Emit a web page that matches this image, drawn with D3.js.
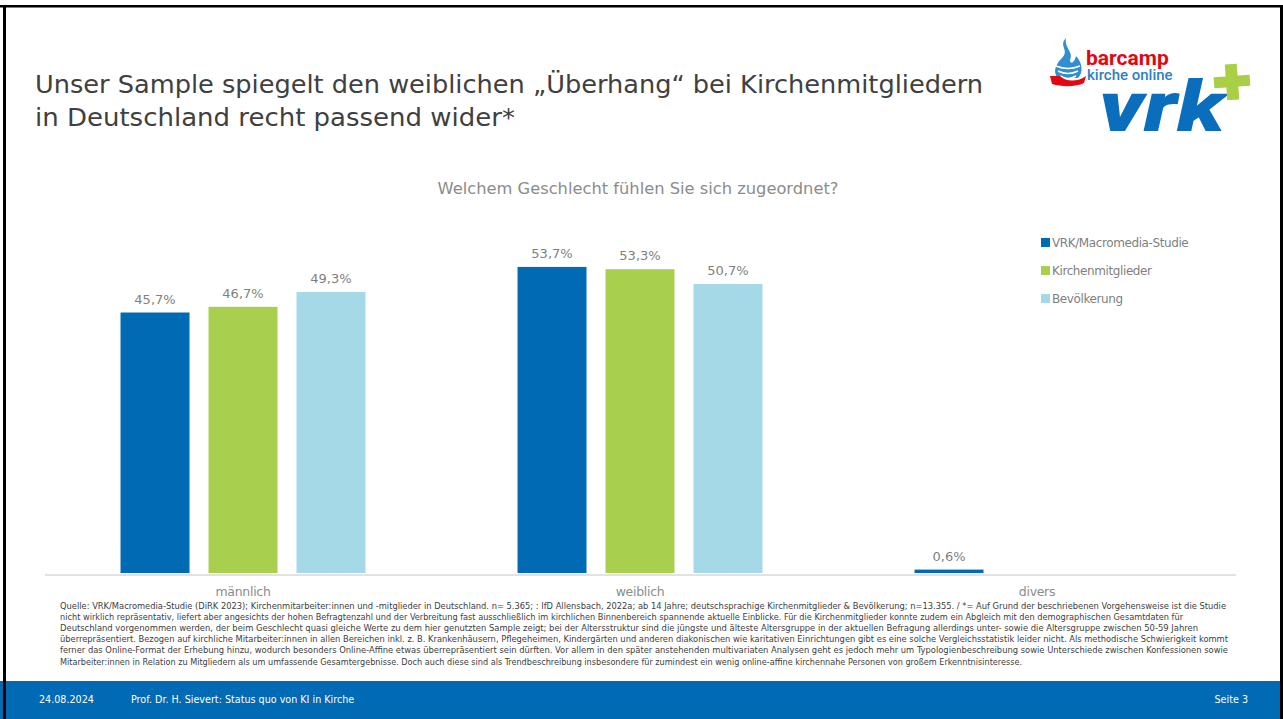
<!DOCTYPE html>
<html>
<head>
<meta charset="utf-8">
<script src="https://cdn.jsdelivr.net/npm/d3@7"></script>
<style>
  body { margin: 0; background: #fff; }
  svg { display: block; font-family: "DejaVu Sans", Verdana, sans-serif; }
</style>
</head>
<body>
<svg id="slide" width="1283" height="719"></svg>
<script>
// data
const categories = ["männlich", "weiblich", "divers"];
const seriesNames = ["VRK/Macromedia-Studie", "Kirchenmitglieder", "Bevölkerung"];
const vrkValues = [45.7, 53.7, 0.6];
const mitgliederValues = [46.7, 53.3, null];
const bevoelkerungValues = [49.3, 50.7, null];
const seriesColors = ["#006ab4", "#a8d04e", "#a6d9e7"];

const titleLines = [
  "Unser Sample spiegelt den weiblichen \u201eÜberhang\u201c bei Kirchenmitgliedern",
  "in Deutschland recht passend wider*"
];
const chartTitle = "Welchem Geschlecht fühlen Sie sich zugeordnet?";
const footnoteLines = [
  "Quelle: VRK/Macromedia-Studie (DiRK 2023); Kirchenmitarbeiter:innen und -mitglieder in Deutschland. n= 5.365; : IfD Allensbach, 2022a; ab 14 Jahre; deutschsprachige Kirchenmitglieder & Bevölkerung; n=13.355. / *= Auf Grund der beschriebenen Vorgehensweise ist die Studie",
  "nicht wirklich repräsentativ, liefert aber angesichts der hohen Befragtenzahl und der Verbreitung fast ausschließlich im kirchlichen Binnenbereich spannende aktuelle Einblicke. Für die Kirchenmitglieder konnte zudem ein Abgleich mit den demographischen Gesamtdaten für",
  "Deutschland vorgenommen werden, der beim Geschlecht quasi gleiche Werte zu dem hier genutzten Sample zeigt; bei der Altersstruktur sind die jüngste und älteste Altersgruppe in der aktuellen Befragung allerdings unter- sowie die Altersgruppe zwischen 50-59 Jahren",
  "überrepräsentiert. Bezogen auf kirchliche Mitarbeiter:innen in allen Bereichen inkl. z. B. Krankenhäusern, Pflegeheimen, Kindergärten und anderen diakonischen wie karitativen Einrichtungen gibt es eine solche Vergleichsstatistik leider nicht. Als methodische Schwierigkeit kommt",
  "ferner das Online-Format der Erhebung hinzu, wodurch besonders Online-Affine etwas überrepräsentiert sein dürften. Vor allem in den später anstehenden multivariaten Analysen geht es jedoch mehr um Typologienbeschreibung sowie Unterschiede zwischen Konfessionen sowie",
  "Mitarbeiter:innen in Relation zu Mitgliedern als um umfassende Gesamtergebnisse. Doch auch diese sind als Trendbeschreibung insbesondere für zumindest ein wenig online-affine kirchennahe Personen von großem Erkenntnisinteresse."
];
const footnoteWidths = [1166, 1123, 1138, 1168, 1168, 962];
const footerDate = "24.08.2024";
const footerText = "Prof. Dr. H. Sievert: Status quo von KI in Kirche";
const footerPage = "Seite 3";

const series = [vrkValues, mitgliederValues, bevoelkerungValues];
const rows = categories.map((c, i) => ({
  cat: c,
  vals: seriesNames.map((s, j) => ({ key: s, color: seriesColors[j], value: series[j][i] }))
}));

const svg = d3.select("#slide");
const W = 1283, H = 719;

// slide frame
svg.append("rect").attr("width", W).attr("height", H).attr("fill", "#fff");

// title
const title = svg.append("g").attr("fill", "#404040").style("font-size", "24.5px");
titleLines.forEach((t, i) => {
  title.append("text").attr("x", 35).attr("y", 93 + i * 33).text(t);
});
// squeeze title to the reference width
title.selectAll("text").each(function(d, i) {
  const target = [948, 480][i];
  const w = this.getComputedTextLength();
  if (Math.abs(w - target) > 4) d3.select(this).attr("textLength", target).attr("lengthAdjust", "spacingAndGlyphs");
});

// logo
const logo = svg.append("g").attr("transform", "translate(1048,36)");
// flame
logo.append("path")
  .attr("d", "M18,2 C10,10 22,14 14,22 C8,28 4,36 10,42 L30,42 C36,36 34,26 28,20 C26,28 22,28 22,24 C26,16 16,12 18,2 Z")
  .attr("fill", "#2f8fd0");
[30, 35, 40].forEach((y, i) => {
  logo.append("path").attr("d", `M${8 + i * 2},${y} Q20,${y + 5} ${32 - i * 2},${y}`)
    .attr("fill", "none").attr("stroke", "#fff").attr("stroke-width", 1.6);
});
// hand
logo.append("path")
  .attr("d", "M2,40 L12,40 C18,46 30,46 38,40 L36,47 C28,51 14,51 4,48 Z")
  .attr("fill", "#e30613");
logo.append("text").attr("x", 38).attr("y", 29).attr("fill", "#e30613")
  .style("font-size", "21px").style("font-weight", "bold").style("font-family", "Roboto, sans-serif").text("barcamp");
logo.append("text").attr("x", 39).attr("y", 44).attr("fill", "#2f7fc4")
  .style("font-size", "15px").style("font-weight", "500").style("font-family", "Roboto, sans-serif").text("kirche online");
logo.append("text").attr("x", 51).attr("y", 95).attr("fill", "#0a6ebd")
  .style("font-size", "70px").style("font-weight", "900").style("font-style", "italic")
  .style("font-family", "Roboto, sans-serif").attr("textLength", 126).attr("lengthAdjust", "spacingAndGlyphs").text("vrk");
logo.append("path")
  .attr("d", "M178,28 L190,28 L190,40 L202,40 L202,51 L190,51 L190,64 L178,64 L178,51 L166,51 L166,40 L178,40 Z")
  .attr("fill", "#a8cf45").attr("transform", "rotate(-4,184,46)");

// chart
const x0 = d3.scaleBand().domain(categories).range([44.5, 1235.5]).padding(0);
const x1 = d3.scaleBand().domain(seriesNames).range([0, x0.bandwidth()])
  .paddingInner(0.216).paddingOuter(0.864);
const y = d3.scaleLinear().domain([0, 60]).range([573, 231]);

svg.append("text").attr("x", 638).attr("y", 194).attr("text-anchor", "middle")
  .attr("fill", "#8c8c8c").style("font-size", "16.3px").text(chartTitle);

const groups = svg.append("g").selectAll("g").data(rows).join("g")
  .attr("transform", d => `translate(${x0(d.cat)},0)`);

const valid = d => d.vals.filter(v => v.value != null);
groups.selectAll("rect").data(valid).join("rect")
  .attr("x", d => x1(d.key))
  .attr("width", x1.bandwidth())
  .attr("y", d => y(d.value))
  .attr("height", d => y(0) - y(d.value))
  .attr("fill", d => d.color);

groups.selectAll("text.val").data(valid).join("text")
  .attr("class", "val")
  .attr("x", d => x1(d.key) + x1.bandwidth() / 2)
  .attr("y", d => y(d.value) - 9)
  .attr("text-anchor", "middle")
  .attr("fill", "#7f7f7f")
  .style("font-size", "13px")
  .text(d => d3.format(".1f")(d.value).replace(".", ",") + "%");

// x axis
const xAxis = svg.append("g").attr("transform", `translate(0,${y(0) + 1.5})`)
  .call(d3.axisBottom(x0).tickSize(0).tickPadding(13));
xAxis.select(".domain").attr("stroke", "#d9d9d9").attr("stroke-width", 1.5);
xAxis.selectAll("text").attr("fill", "#8c8c8c").style("font-size", "12.5px")
  .style("font-family", "DejaVu Sans, sans-serif").style("letter-spacing", "-0.3px");

// legend
const legend = svg.append("g").attr("transform", "translate(1041,238)");
const li = legend.selectAll("g").data(seriesNames).join("g")
  .attr("transform", (d, i) => `translate(0,${i * 28})`);
li.append("rect").attr("width", 9).attr("height", 9).attr("fill", (d, i) => seriesColors[i]);
li.append("text").attr("x", 11).attr("y", 9).attr("fill", "#7f7f7f")
  .style("font-size", "12px").style("letter-spacing", "-0.4px").text(d => d);

// footnote
const foot = svg.append("g").attr("fill", "#404040").style("font-size", "9px")
  .style("font-family", "DejaVu Sans Condensed, DejaVu Sans, sans-serif");
footnoteLines.forEach((t, i) => {
  foot.append("text").attr("x", 60).attr("y", 609 + i * 11.1)
    .attr("textLength", footnoteWidths[i]).attr("lengthAdjust", "spacingAndGlyphs").text(t);
});

// footer bar
svg.append("rect").attr("x", 0).attr("y", 681).attr("width", W).attr("height", H - 681).attr("fill", "#006ab4");
const ft = svg.append("g").attr("fill", "#fff").style("font-size", "9.6px");
ft.append("text").attr("x", 39).attr("y", 703).text(footerDate);
ft.append("text").attr("x", 131).attr("y", 703).text(footerText);
ft.append("text").attr("x", 1248).attr("y", 703).attr("text-anchor", "end").text(footerPage);

// black frame edges
svg.append("rect").attr("x", 0).attr("y", 5).attr("width", W).attr("height", 2.5).attr("fill", "#000");
svg.append("rect").attr("x", 3).attr("y", 5).attr("width", 3).attr("height", H - 5).attr("fill", "#000");
svg.append("rect").attr("x", 1280).attr("y", 5).attr("width", 3).attr("height", H - 5).attr("fill", "#000");
</script>
</body>
</html>
